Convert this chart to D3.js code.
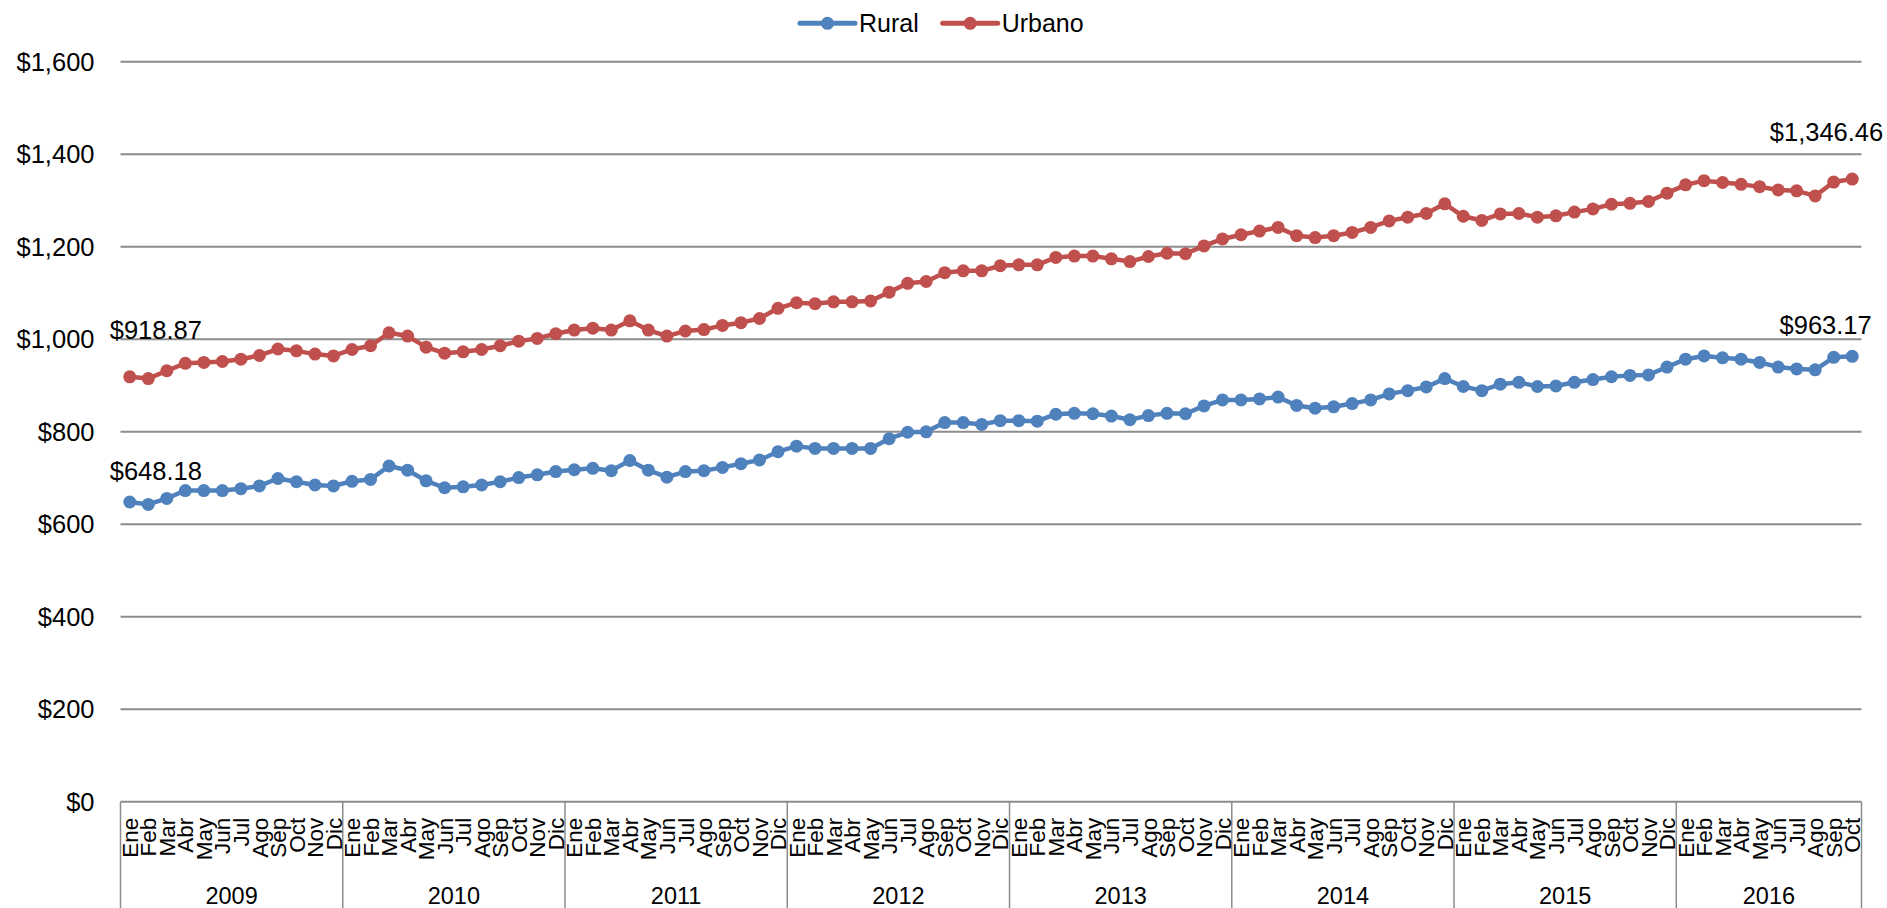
<!DOCTYPE html>
<html><head><meta charset="utf-8">
<script src="https://cdn.jsdelivr.net/npm/d3@7"></script>
<style>
html,body{margin:0;padding:0;background:#fff;}
svg text{font-family:"Liberation Sans",Arial,sans-serif;fill:#000;}
</style></head><body>
<svg id="chart" width="1887" height="908"></svg>
<script>
// ---- data ----
const years = ["2009","2010","2011","2012","2013","2014","2015","2016"];
const monthNames = ["Ene","Feb","Mar","Abr","May","Jun","Jul","Ago","Sep","Oct","Nov","Dic"];
const monthsPerYear = [12,12,12,12,12,12,12,10];
const seriesNames = ["Rural","Urbano"];
const rural = [
  648.18,643,656,673,673,673,677,683,699,692,685,683,
  693,697,726,717,694,679,681,685,692,701,707,714,
  718,721,716,738,717,702,714,716,723,731,739,757,
  769,764,764,764,764,785,799,800,820,820,816,824,
  824,823,838,840,839,834,826,835,840,839,856,869,
  869,871,875,857,851,854,861,869,882,889,897,915,
  898,889,903,907,898,899,907,913,919,922,923,940,
  957,964,960,957,950,940,936,934,961,963.17
];
const urbano = [
  918.87,915,932,948,950,952,957,965,979,975,968,964,
  978,986,1014,1007,983,970,973,978,986,996,1002,1012,
  1020,1024,1020,1040,1020,1007,1018,1021,1030,1036,1045,1067,
  1079,1077,1081,1081,1083,1102,1121,1125,1144,1148,1148,1159,
  1161,1161,1177,1180,1180,1174,1168,1179,1186,1185,1202,1217,
  1226,1234,1242,1224,1220,1224,1231,1242,1256,1264,1272,1293,
  1266,1257,1271,1272,1264,1267,1275,1282,1292,1294,1298,1316,
  1334,1343,1339,1335,1330,1323,1321,1310,1340,1346.46
];
const yTicks = [0,200,400,600,800,1000,1200,1400,1600];
const colors = ["#4F81BD","#C0504D"];

// ---- categories ----
const cats = [];
years.forEach((yr, yi) => {
  for (let m = 0; m < monthsPerYear[yi]; m++) cats.push({year: yr, month: monthNames[m], key: yr + "-" + m});
});

const W = 1887, H = 908;
const plot = {left: 120.5, right: 1861.5, top: 61.8, bottom: 801.8};

const svg = d3.select("#chart");
const x = d3.scaleBand().domain(cats.map(d => d.key)).range([plot.left, plot.right]).padding(0);
const xc = i => x(cats[i].key) + x.bandwidth() / 2;
const y = d3.scaleLinear().domain([0, 1600]).range([plot.bottom, plot.top]);
const fmtTick = d3.format("$,.0f");
const fmtLabel = d3.format("$,.2f");

// gridlines
svg.append("g").selectAll("line").data(yTicks).join("line")
  .attr("x1", plot.left).attr("x2", plot.right)
  .attr("y1", d => y(d)).attr("y2", d => y(d))
  .attr("stroke", "#8c8c8c").attr("stroke-width", 2);

// y labels
svg.append("g").selectAll("text").data(yTicks).join("text")
  .attr("x", plot.left - 26).attr("y", d => y(d)).attr("dy", "0.35em")
  .attr("text-anchor", "end").style("font-size", "25.5px")
  .text(d => fmtTick(d));

// category axis box: year separators
const yearStarts = [];
let acc = 0;
years.forEach((yr, yi) => { yearStarts.push(acc); acc += monthsPerYear[yi]; });
const sepX = yearStarts.map(s => x(cats[s].key)).concat([plot.right]);
svg.append("g").selectAll("line").data(sepX).join("line")
  .attr("x1", d => d).attr("x2", d => d)
  .attr("y1", y(0)).attr("y2", H)
  .attr("stroke", "#8c8c8c").attr("stroke-width", 1.5);

// month labels
svg.append("g").selectAll("text").data(cats).join("text")
  .attr("transform", (d, i) => `translate(${xc(i)},${y(0) + 16}) rotate(-90)`)
  .attr("dy", "0.36em").attr("text-anchor", "end")
  .style("font-size", "22.5px")
  .text(d => d.month);

// year labels
svg.append("g").selectAll("text").data(years).join("text")
  .attr("x", (d, i) => (sepX[i] + sepX[i + 1]) / 2)
  .attr("y", 904).attr("text-anchor", "middle")
  .style("font-size", "23.5px")
  .text(d => d);

// series
const seriesData = [rural, urbano];
const line = d3.line().x((d, i) => xc(i)).y(d => y(d));
seriesData.forEach((vals, si) => {
  const g = svg.append("g");
  g.append("path").datum(vals).attr("d", line)
    .attr("fill", "none").attr("stroke", colors[si]).attr("stroke-width", 4.5)
    .attr("stroke-linejoin", "round");
  g.selectAll("circle").data(vals).join("circle")
    .attr("cx", (d, i) => xc(i)).attr("cy", d => y(d)).attr("r", 6.5)
    .attr("fill", colors[si]);
});

// data labels (first and last)
const labelOffset = [22, 38];
seriesData.forEach((vals, si) => {
  const n = vals.length - 1;
  svg.append("text").attr("x", xc(0) - 20).attr("y", y(vals[0]) - labelOffset[si])
    .attr("text-anchor", "start").style("font-size", "25.5px").text(fmtLabel(vals[0]));
  svg.append("text").attr("x", xc(n) + (si === 0 ? 19.5 : 31)).attr("y", y(vals[n]) - labelOffset[si])
    .attr("text-anchor", "end").style("font-size", "25.5px").text(fmtLabel(vals[n]));
});

// legend
const legend = svg.append("g");
const legendItems = [{x0: 800}, {x0: 942.7}];
seriesNames.forEach((name, si) => {
  const lx = legendItems[si].x0, ly = 23.3;
  legend.append("line").attr("x1", lx).attr("x2", lx + 55).attr("y1", ly).attr("y2", ly)
    .attr("stroke", colors[si]).attr("stroke-width", 5).attr("stroke-linecap", "round");
  legend.append("circle").attr("cx", lx + 27.5).attr("cy", ly).attr("r", 6.5).attr("fill", colors[si]);
  legend.append("text").attr("x", lx + 59).attr("y", ly).attr("dy", "0.35em")
    .style("font-size", "25px").text(name);
});
</script>
</body></html>
